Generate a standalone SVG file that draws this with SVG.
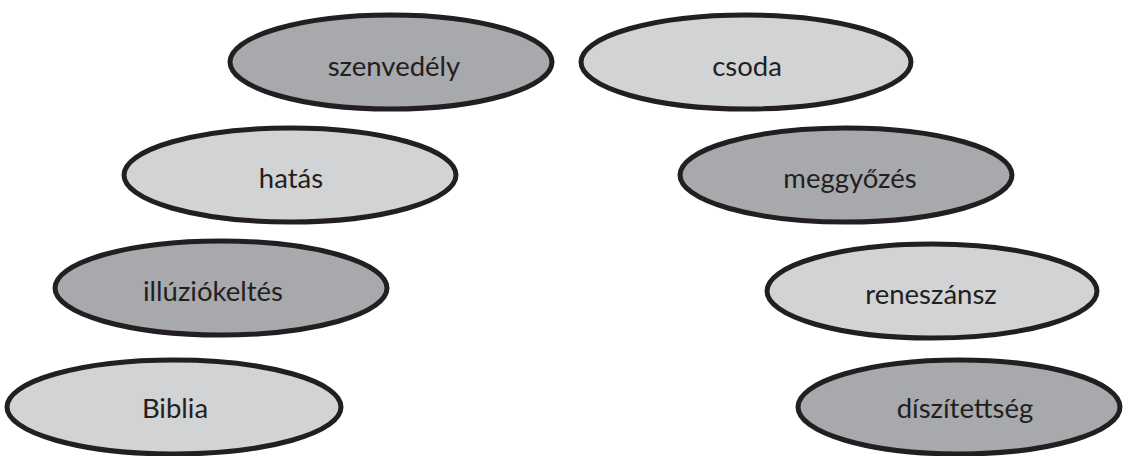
<svg xmlns="http://www.w3.org/2000/svg" width="1124" height="456" viewBox="0 0 1124 456">
  <style>
    .node ellipse { stroke: #231f20; stroke-width: 5; }
    .dark ellipse { fill: #a7a9ac; }
    .light ellipse { fill: #d1d3d4; }
    .node text { font-family: "Lato", "Open Sans", sans-serif; font-size: 27.5px; fill: #231f20; text-anchor: middle; }
  </style>
  <rect width="1124" height="456" fill="#ffffff"/>
  <g id="connectors"/>
  <g id="szenvedely" class="node dark">
    <ellipse cx="391" cy="62" rx="161" ry="47"/>
    <text x="394" y="76">szenvedély</text>
  </g>
  <g id="csoda" class="node light">
    <ellipse cx="746" cy="62" rx="165" ry="47"/>
    <text x="747" y="76">csoda</text>
  </g>
  <g id="hatas" class="node light">
    <ellipse cx="290" cy="175" rx="166" ry="47"/>
    <text x="291" y="188">hatás</text>
  </g>
  <g id="meggyozes" class="node dark">
    <ellipse cx="846" cy="175" rx="166" ry="47"/>
    <text x="850" y="188">meggyőzés</text>
  </g>
  <g id="illuziokeltes" class="node dark">
    <ellipse cx="221" cy="288" rx="166" ry="47"/>
    <text x="213" y="301">illúziókeltés</text>
  </g>
  <g id="reneszansz" class="node light">
    <ellipse cx="932" cy="291" rx="165" ry="47"/>
    <text x="931" y="304">reneszánsz</text>
  </g>
  <g id="biblia" class="node light">
    <ellipse cx="174" cy="407" rx="167" ry="47"/>
    <text x="175" y="418">Biblia</text>
  </g>
  <g id="diszitettseg" class="node dark">
    <ellipse cx="959" cy="407" rx="161" ry="47"/>
    <text x="965" y="418">díszítettség</text>
  </g>
</svg>
